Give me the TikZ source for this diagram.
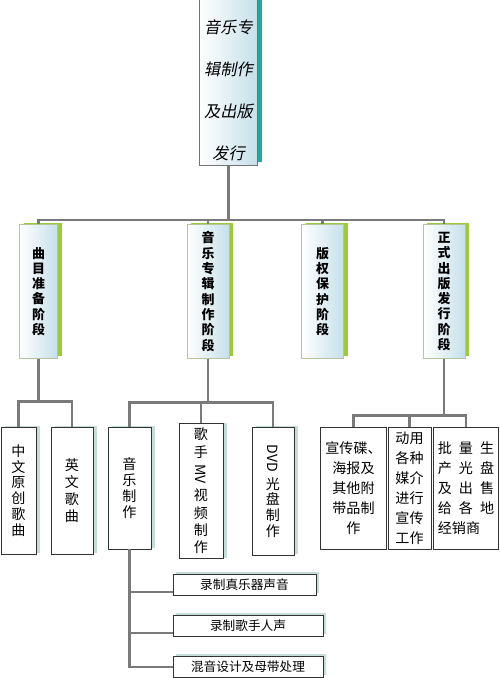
\documentclass[tikz,border=0pt]{standalone}
\usepackage{fontspec}
\usepackage{graphicx}
\setmainfont{Noto Sans CJK SC}
\newfontfamily\cjkslant[FakeSlant=0.2]{Noto Sans CJK SC}
\usetikzlibrary{positioning,shadows,calc}

\definecolor{linegray}{HTML}{7A7A7A}
\definecolor{tealshadow}{HTML}{26A69A}
\definecolor{greenshadow}{HTML}{9BCB3B}
\definecolor{stageborder}{HTML}{B4C49C}
\definecolor{paleblue}{HTML}{C6E0EA}
\definecolor{softshadow}{HTML}{C5DCD8}

\begin{document}
\begin{tikzpicture}[x=0.025cm, y=-0.025cm,
    album/.style={rectangle, draw=black!55, line width=0.7pt, left color=white, right color=paleblue, align=center,
        drop shadow={shadow xshift=0.125cm, shadow yshift=0.075cm, fill=tealshadow, opacity=1},
        font=\cjkslant\fontsize{11.5}{29.9}\selectfont},
    stage/.style={rectangle, draw=stageborder, line width=0.7pt, left color=white, right color=paleblue, align=center,
        minimum width=1.05cm, minimum height=3.325cm,
        drop shadow={shadow xshift=0.11cm, shadow yshift=0.06cm, fill=greenshadow, opacity=1},
        font=\fontsize{9.2}{10.9}\selectfont\bfseries},
    task/.style={rectangle, draw=black!80, line width=0.6pt, fill=white, align=center,
        drop shadow={shadow xshift=0.1cm, shadow yshift=0.02cm, fill=softshadow, opacity=1},
        font=\fontsize{10}{11.2}\selectfont},
    note/.style={rectangle, draw=black!80, line width=0.6pt, fill=white, align=center,
        minimum height=3.05cm, font=\fontsize{10}{14.2}\selectfont},
    rec/.style={rectangle, draw=black!80, line width=0.6pt, fill=white, minimum height=0.5cm,
        drop shadow={shadow xshift=0.08cm, shadow yshift=0.06cm, fill=softshadow, opacity=1},
        font=\fontsize{9}{10}\selectfont},
    link/.style={draw=linegray, line width=1.5pt}
]
\useasboundingbox (0,0) rectangle (500,678);

% Top
\node[album, minimum width=1.425cm, minimum height=3.9cm] (album) at (228.5,82) {\rule{0pt}{0.75cm}音乐专\\辑制作\\及出版\\发行};

% Stages
\node[stage, minimum width=0.95cm] (prep) at (38.5,291.5) {曲\\目\\准\\备\\阶\\段};
\node[stage] (prod) at (208,291.5) {音\\乐\\专\\辑\\制\\作\\阶\\段};
\node[stage] (right) at (322.5,291.5) {版\\权\\保\\护\\阶\\段};
\node[stage] (release) at (444,291.5) {正\\式\\出\\版\\发\\行\\阶\\段};

\draw[link] (album.south) -- ++(0,54) -| (prep.north);
\draw[link] (album.south) -- ++(0,54) -| (prod.north);
\draw[link] (album.south) -- ++(0,54) -| (right.north);
\draw[link] (album.south) -- ++(0,54) -| (release.north);

% Songs
\node[task, minimum width=0.875cm, minimum height=3.175cm] (cn) at (18.5,490.5) {中\\文\\原\\创\\歌\\曲};
\node[task, minimum width=1.05cm, minimum height=3.175cm, font=\fontsize{10}{12.2}\selectfont] (en) at (72,490.5) {英\\文\\歌\\曲};

\draw[link] (prep.south) -- ++(0,43) -| (cn.north);
\draw[link] (prep.south) -- ++(0,43) -| (en.north);

% Production
\node[task, minimum width=1.075cm, minimum height=3.05cm] (music) at (129.5,488) {音\\乐\\制\\作};
\node[task, minimum width=1.1cm, minimum height=3.2cm, font=\fontsize{10}{12.4}\selectfont] (mv) at (201,491) {歌\\手\\[3pt]\rotatebox[origin=c]{-90}{MV}\\[3pt]视\\频\\制\\作};
\node[task, minimum width=1.05cm, minimum height=3.2cm] (dvd) at (273,491) {\rotatebox[origin=c]{-90}{DVD}\\[3pt]光\\盘\\制\\作};

\draw[link] (prod.south) -- ++(0,44) -| (music.north);
\draw[link] (prod.south) -- ++(0,44) -| (mv.north);
\draw[link] (prod.south) -- ++(0,44) -| (dvd.north);

% Release
\node[note, minimum width=1.575cm] (promo) at (353.5,488) {宣传碟、\\海报及\\其他附\\带品制\\作};
\node[note, minimum width=1.075cm] (media) at (409.5,488) {动用\\各种\\媒介\\进行\\宣传\\工作};
\node[note, minimum width=1.45cm, align=left] (sale) at (466,488) {批\enspace 量\enspace 生\\产\enspace 光\enspace 盘\\及\enspace 出\enspace 售\\给\enspace 各\enspace 地\\经销商};

\draw[link] (release.south) -- ++(0,57) -| (promo.north);
\draw[link] (release.south) -- ++(0,57) -| (media.north);
\draw[link] (release.south) -- ++(0,57) -| (sale.north);

% Recording
\node[rec, minimum width=3.575cm] (inst) at (244.5,585) {录制真乐器声音};
\node[rec, minimum width=3.75cm] (vocal) at (248,626) {录制歌手人声};
\node[rec, minimum width=3.75cm] (mix) at (248,667) {混音设计及母带处理};

\draw[link] (music.south) |- ([yshift=0.1cm]inst.south west);
\draw[link] (music.south) |- ([yshift=0.1cm]vocal.south west);
\draw[link] (music.south) |- (mix.west);

\end{tikzpicture}
\end{document}
